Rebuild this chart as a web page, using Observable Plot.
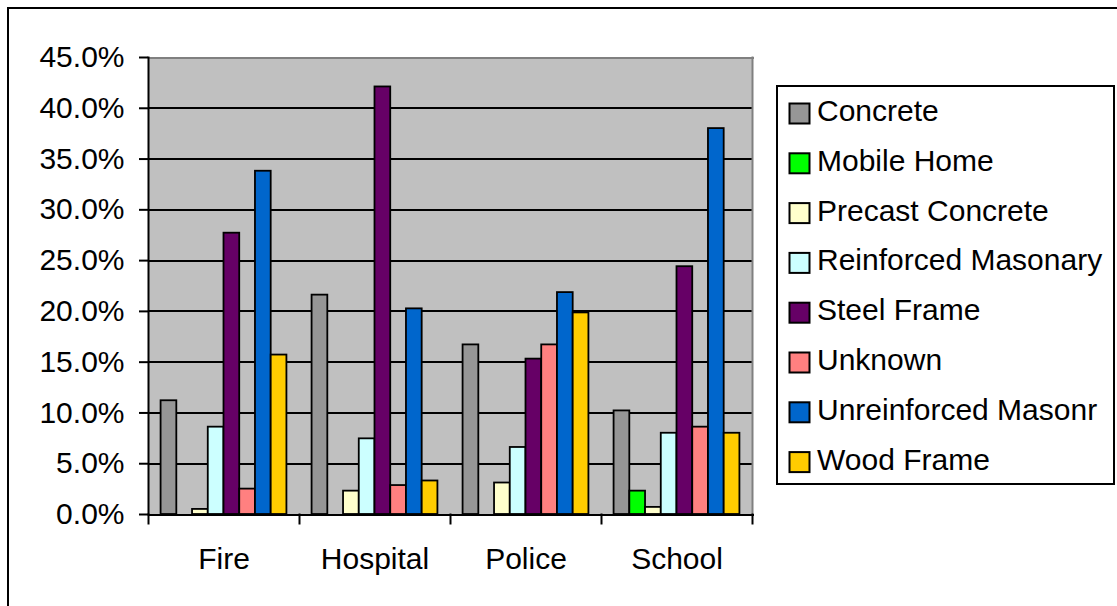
<!DOCTYPE html>
<html><head><meta charset="utf-8">
<script src="https://cdn.jsdelivr.net/npm/d3@7"></script>
<script src="https://cdn.jsdelivr.net/npm/@observablehq/plot@0.6"></script>
<style>
html,body{margin:0;padding:0;background:#fff;overflow:hidden;}
#wrap{position:relative;width:1117px;height:606px;font-family:"Liberation Sans",Arial,sans-serif;overflow:hidden;}
#border{position:absolute;left:7px;top:7px;width:1200px;height:700px;border-left:2px solid #000;border-top:2px solid #000;pointer-events:none;}
#chart{position:absolute;left:0;top:0;}
#legend{position:absolute;left:776px;top:84px;}
</style>
</head><body>
<div id="wrap"><div id="chart"></div><div id="border"></div><div id="legend"></div></div>
<script>
const categories = ["Fire", "Hospital", "Police", "School"];
const series = ["Concrete", "Mobile Home", "Precast Concrete", "Reinforced Masonary", "Steel Frame", "Unknown", "Unreinforced Masonr", "Wood Frame"];
const concrete     = [0.112, 0.216, 0.167, 0.102];
const mobileHome   = [0.0,   0.0,   0.0,   0.023];
const precast      = [0.005, 0.023, 0.031, 0.007];
const reinforced   = [0.086, 0.0745, 0.066, 0.080];
const steelFrame   = [0.277, 0.421, 0.153, 0.244];
const unknown      = [0.025, 0.0285, 0.167, 0.086];
const unreinforced = [0.338, 0.2025, 0.2185, 0.380];
const woodFrame    = [0.157, 0.033, 0.1985, 0.080];
const yTicks = [0, 0.05, 0.10, 0.15, 0.20, 0.25, 0.30, 0.35, 0.40, 0.45];
const colors = ["#969696", "#00ff00", "#ffffcc", "#ccffff", "#660066", "#ff8080", "#0066cc", "#ffcc00"];

const seriesValues = [concrete, mobileHome, precast, reinforced, steelFrame, unknown, unreinforced, woodFrame];
const table = categories.flatMap((c, i) => series.map((s, j) => ({category: c, series: s, value: seriesValues[j][i]})));

const W = 1117, H = 606;
const mTop = 57, mBottom = H - 514, mLeft = 148, mRight = W - 752;
const innerH = H - mTop - mBottom;
const tickLen = 9;

const chart = Plot.plot({
  width: W, height: H,
  marginTop: mTop, marginBottom: mBottom, marginLeft: mLeft, marginRight: mRight,
  style: {background: "white", fontFamily: "'Liberation Sans', Arial, sans-serif", fontSize: "30px", color: "black"},
  fx: {domain: categories, padding: 0, round: true},
  x: {domain: series, paddingInner: 0, paddingOuter: 0.8, axis: null, round: false},
  y: {domain: [0, 0.45]},
  color: {domain: series, range: colors},
  marks: [
    Plot.frame({fill: "#c0c0c0", stroke: "none", shapeRendering: "crispEdges"}),
    Plot.gridY(yTicks, {stroke: "black", strokeOpacity: 1, strokeWidth: 1.8, shapeRendering: "crispEdges"}),
    Plot.barY(table, {filter: d => d.value > 0, fx: "category", x: "series", y: "value", fill: "series", stroke: "black", strokeWidth: 1.8}),
    Plot.frame({anchor: "top", stroke: "#808080", strokeWidth: 2, shapeRendering: "crispEdges"}),
    Plot.frame({anchor: "right", facetAnchor: "right", stroke: "#808080", strokeWidth: 2}),
    Plot.frame({anchor: "left", facetAnchor: "left", stroke: "black", strokeWidth: 2}),
    Plot.frame({anchor: "bottom", stroke: "black", strokeWidth: 2, shapeRendering: "crispEdges"}),
    Plot.frame({anchor: "left", insetTop: innerH, insetBottom: -tickLen, stroke: "black", strokeWidth: 2}),
    Plot.frame({anchor: "right", facetAnchor: "right", insetTop: innerH, insetBottom: -tickLen, stroke: "black", strokeWidth: 2}),
    Plot.axisY(yTicks, {tickFormat: d3.format(".1%"), tickSize: tickLen, tickPadding: 15, fontSize: 30, strokeWidth: 2, label: null}),
    Plot.axisFx({anchor: "bottom", tickSize: 0, tickPadding: 33, fontSize: 30, label: null})
  ]
});
document.getElementById("chart").appendChild(chart);

// Legend (box at right, built from the Plot color scale)
const cs = chart.scale("color");
const lg = d3.select("#legend").append("svg").attr("width", 341).attr("height", 402)
  .style("font-family", "'Liberation Sans', Arial, sans-serif").style("font-size", "30px");
lg.append("rect").attr("x", 1).attr("y", 2).attr("width", 337).attr("height", 398)
  .attr("fill", "white").attr("stroke", "black").attr("stroke-width", 2);
const items = lg.selectAll("g").data(cs.domain).join("g")
  .attr("transform", (d, i) => `translate(0,${i * 49.8})`);
items.append("rect").attr("x", 13.5).attr("y", 19.5).attr("width", 20).attr("height", 20)
  .attr("fill", (d, i) => cs.range[i]).attr("stroke", "black").attr("stroke-width", 2);
items.append("text").attr("x", 41).attr("y", 37).text(d => d).attr("fill", "black");
</script>
</body></html>
